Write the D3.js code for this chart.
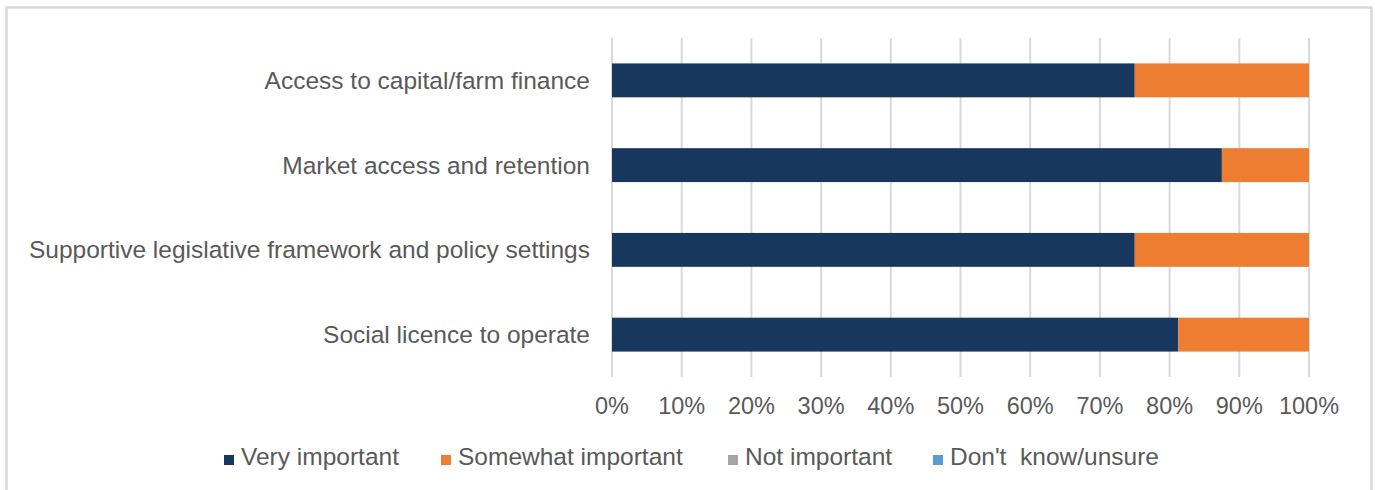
<!DOCTYPE html>
<html lang="en">
<head>
<meta charset="UTF-8">
<title>Importance of factors</title>
<script src="https://d3js.org/d3.v7.min.js"></script>
<style>
    body { margin: 0; padding: 0; background: #ffffff; }
    #chart { display: block; }
    .axis-label, .legend text, .cat-label {
        font-family: "Liberation Sans", Arial, sans-serif;
        fill: #595959;
    }
</style>
</head>
<body>
<svg id="chart"></svg>
<script>
    // data
    const categories = [
        "Access to capital/farm finance",
        "Market access and retention",
        "Supportive legislative framework and policy settings",
        "Social licence to operate"
    ];
    const seriesNames = ["Very important", "Somewhat important", "Not important", "Don't  know/unsure"];
    const seriesColors = ["#17375e", "#ed7d31", "#a5a5a5", "#5b9bd5"];
    const veryImportant = [75.0, 87.5, 75.0, 81.25];
    const somewhatImportant = [25.0, 12.5, 25.0, 18.75];
    const notImportant = [0, 0, 0, 0];
    const dontKnow = [0, 0, 0, 0];
    const xTicks = [0, 10, 20, 30, 40, 50, 60, 70, 80, 90, 100];

    const W = 1375, H = 490;
    const svg = d3.select("#chart").attr("width", W).attr("height", H);

    // chart frame
    svg.append("rect")
        .attr("x", 6.5).attr("y", 7.5)
        .attr("width", 1365).attr("height", 490)
        .attr("fill", "none")
        .attr("stroke", "#d9d9d9")
        .attr("stroke-width", 2.5);

    const plot = { left: 612, right: 1309, top: 38, bottom: 377 };

    const x = d3.scaleLinear().domain([0, 100]).range([plot.left, plot.right]);
    const y = d3.scaleBand().domain(categories).range([plot.top, plot.bottom]).paddingInner(0.6).paddingOuter(0.3);

    // gridlines
    svg.append("g")
        .selectAll("line")
        .data(xTicks)
        .join("line")
        .attr("x1", d => x(d)).attr("x2", d => x(d))
        .attr("y1", plot.top).attr("y2", plot.bottom)
        .attr("stroke", "#d9d9d9")
        .attr("stroke-width", 2);

    // tick labels
    svg.append("g")
        .selectAll("text")
        .data(xTicks)
        .join("text")
        .attr("class", "axis-label")
        .attr("x", d => x(d))
        .attr("y", 414)
        .attr("text-anchor", "middle")
        .style("font-size", "23.5px")
        .text(d => d + "%");

    // category labels
    svg.append("g")
        .selectAll("text")
        .data(categories)
        .join("text")
        .attr("class", "cat-label")
        .attr("x", 590)
        .attr("y", d => y(d) + y.bandwidth() / 2)
        .attr("dy", "0.35em")
        .attr("text-anchor", "end")
        .style("font-size", "24.5px")
        .text(d => d);

    // stacked bars
    const rows = categories.map((c, i) => ({
        cat: c,
        "Very important": veryImportant[i],
        "Somewhat important": somewhatImportant[i],
        "Not important": notImportant[i],
        "Don't  know/unsure": dontKnow[i]
    }));
    const stacked = d3.stack().keys(seriesNames)(rows);

    svg.append("g")
        .selectAll("g")
        .data(stacked)
        .join("g")
        .attr("fill", (d, i) => seriesColors[i])
        .selectAll("rect")
        .data(d => d)
        .join("rect")
        .attr("x", d => x(d[0]))
        .attr("y", d => y(d.data.cat))
        .attr("width", d => x(d[1]) - x(d[0]))
        .attr("height", y.bandwidth());

    // legend
    const legendX = [224, 441, 728, 933];
    const legend = svg.append("g").attr("class", "legend");
    const item = legend.selectAll("g")
        .data(seriesNames)
        .join("g")
        .attr("transform", (d, i) => `translate(${legendX[i]}, 465)`);
    item.append("rect")
        .attr("x", 0).attr("y", -10)
        .attr("width", 10).attr("height", 10)
        .attr("fill", (d, i) => seriesColors[i]);
    item.append("text")
        .attr("x", 17)
        .style("font-size", "24.5px")
        .style("white-space", "pre")
        .attr("xml:space", "preserve")
        .text(d => d);
</script>
</body>
</html>
